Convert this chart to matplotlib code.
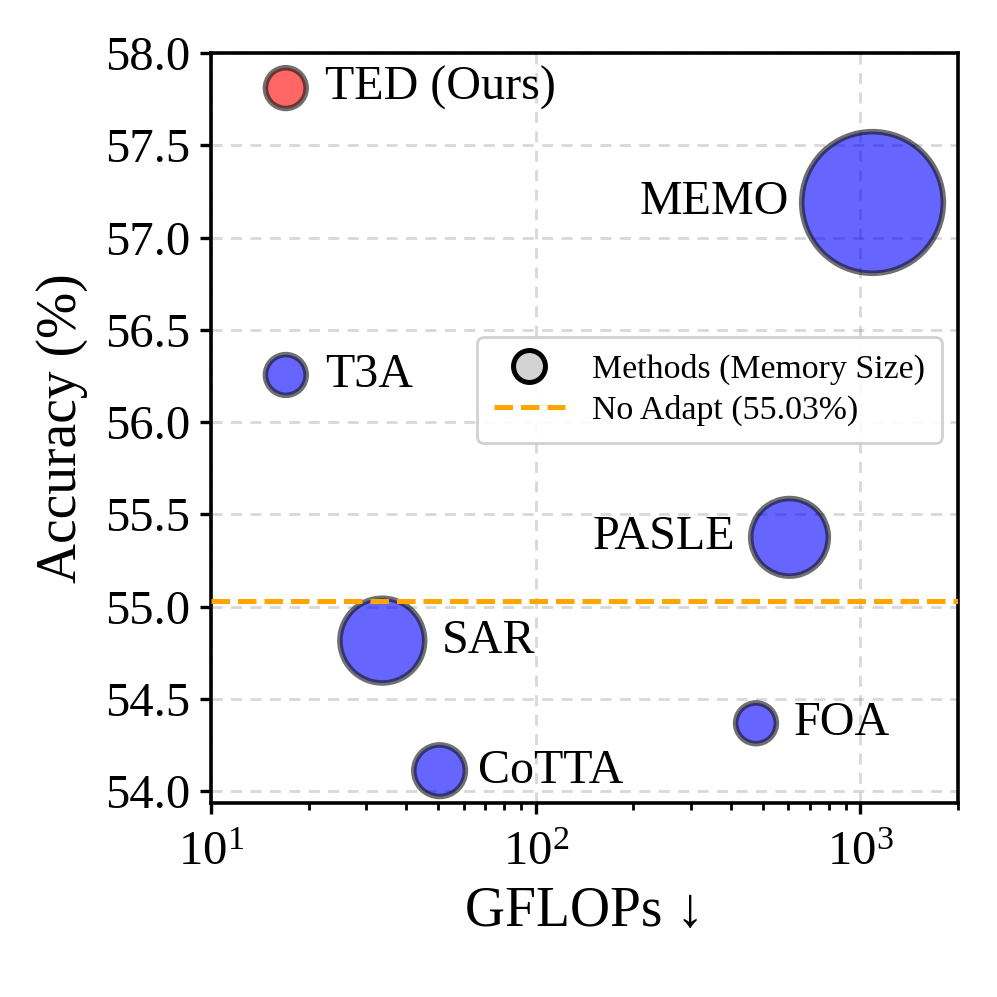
import matplotlib.pyplot as plt
from matplotlib.lines import Line2D
from matplotlib.ticker import FormatStrFormatter

plt.rcParams['font.family'] = ['Liberation Serif', 'DejaVu Serif']
plt.rcParams['mathtext.fontset'] = 'stix'

methods = ["TED (Ours)", "MEMO", "T3A", "PASLE", "SAR", "FOA", "CoTTA"]
gflops = [17.0, 1090, 17.0, 605, 33.7, 477, 50.6]
accuracy = [57.81, 57.19, 56.255, 55.375, 54.815, 54.367, 54.11]
mem_size = [215, 2600, 215, 780, 930, 215, 345]
no_adapt = 55.03

colors = ["red" if m == "TED (Ours)" else "blue" for m in methods]
# label offsets (points) and alignment
offsets = [(14, 0), (-30, 0), (14, 0), (-19.5, 0), (21.5, 0), (13.5, 0), (13.7, 0)]
aligns = ["left", "right", "left", "right", "left", "left", "left"]

fig = plt.figure(figsize=(4.985, 4.985), dpi=200)
ax = fig.add_axes([0.2116, 0.1946, 0.7494, 0.7522])

ax.scatter(gflops, accuracy, s=mem_size, c=colors, alpha=0.6,
           edgecolors="#111111", linewidths=2.0, zorder=3)
ax.axhline(no_adapt, color="orange", linestyle="--", linewidth=1.8, zorder=4)

for m, x, y, off, ha in zip(methods, gflops, accuracy, offsets, aligns):
    ax.annotate(m, (x, y), xytext=off, textcoords="offset points",
                ha=ha, va="center", fontsize=17.3)

ax.set_xscale("log")
ax.set_xlim(10, 2000)
ax.set_ylim(53.935, 58.0)
ax.set_yticks([54.0, 54.5, 55.0, 55.5, 56.0, 56.5, 57.0, 57.5, 58.0])
ax.yaxis.set_major_formatter(FormatStrFormatter("%.1f"))
ax.tick_params(axis="both", which="major", labelsize=17.5, width=1.2, length=4)
ax.tick_params(axis="x", which="major", pad=6)
ax.tick_params(axis="both", which="minor", width=1.0, length=2.5)
ax.grid(True, which="major", linestyle="--", color="gray", alpha=0.3, linewidth=1.0,
        dashes=(4, 3))
for sp in ax.spines.values():
    sp.set_linewidth(1.3)

ax.set_xlabel("GFLOPs ↓", fontsize=20)
ax.set_ylabel("Accuracy (%)", fontsize=20, labelpad=6)

handles = [
    Line2D([0], [0], marker="o", linestyle="None", markersize=11.5,
           markerfacecolor="lightgray", markeredgecolor="black", markeredgewidth=1.8,
           label="Methods (Memory Size)"),
    Line2D([0], [0], color="orange", linestyle="--", linewidth=1.8,
           label="No Adapt (55.03%)"),
]
ax.legend(handles=handles, loc="upper left", bbox_to_anchor=(0.356, 0.621),
          borderaxespad=0, fontsize=12.2, framealpha=0.9, borderpad=0.5,
          labelspacing=0.28, handlelength=2.1)

fig.savefig("out.png", dpi=200)
